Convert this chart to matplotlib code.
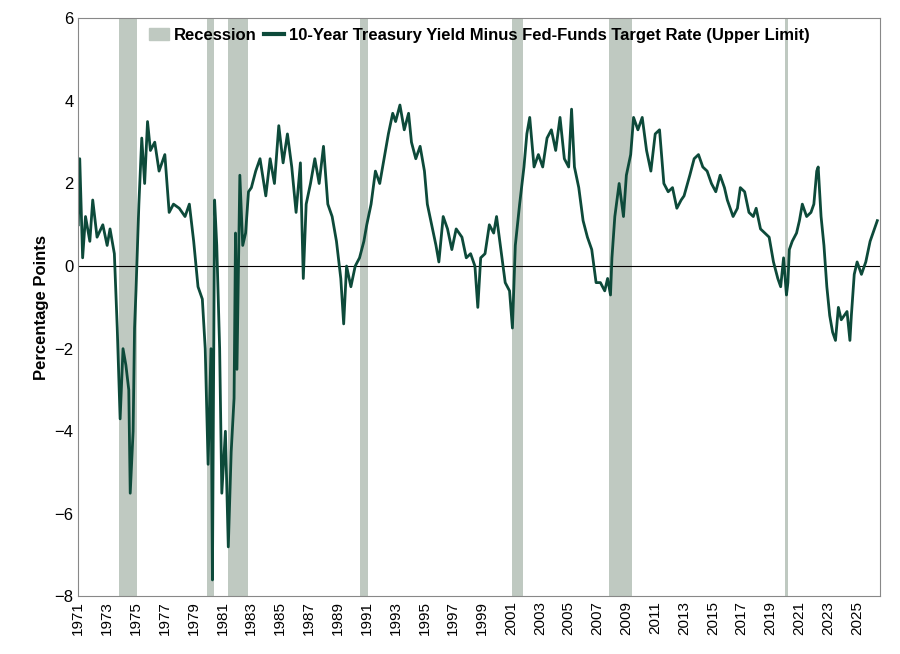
import matplotlib
matplotlib.use("Agg")
import matplotlib.pyplot as plt
from matplotlib.patches import Patch
from matplotlib.lines import Line2D

plt.rcParams['font.family'] = ['Liberation Sans', 'DejaVu Sans']

years = [1971.0,1971.1,1971.3,1971.5,1971.8,1972.0,1972.3,1972.7,1973.0,1973.2,1973.5,1973.7,1973.9,1974.1,1974.3,1974.5,1974.6,1974.8,1974.9,1975.0,1975.2,1975.4,1975.6,1975.8,1976.0,1976.3,1976.6,1977.0,1977.3,1977.6,1978.0,1978.4,1978.7,1979.0,1979.3,1979.6,1979.8,1980.0,1980.2,1980.3,1980.45,1980.6,1980.8,1980.95,1981.2,1981.4,1981.6,1981.8,1981.9,1982.0,1982.2,1982.4,1982.6,1982.8,1983.0,1983.3,1983.6,1984.0,1984.3,1984.6,1984.9,1985.2,1985.5,1985.8,1986.1,1986.4,1986.6,1986.8,1987.1,1987.4,1987.7,1988.0,1988.3,1988.6,1988.9,1989.2,1989.4,1989.6,1989.9,1990.2,1990.5,1990.8,1991.0,1991.3,1991.6,1991.9,1992.2,1992.5,1992.8,1993.0,1993.3,1993.6,1993.9,1994.1,1994.4,1994.7,1995.0,1995.2,1995.5,1995.8,1996.0,1996.3,1996.6,1996.9,1997.2,1997.6,1997.9,1998.2,1998.5,1998.7,1998.9,1999.2,1999.5,1999.8,2000.0,2000.3,2000.6,2000.9,2001.1,2001.3,2001.6,2001.9,2002.1,2002.3,2002.6,2002.9,2003.2,2003.5,2003.8,2004.1,2004.4,2004.7,2005.0,2005.2,2005.4,2005.7,2006.0,2006.3,2006.6,2006.9,2007.2,2007.5,2007.7,2007.9,2008.0,2008.2,2008.5,2008.8,2009.0,2009.3,2009.5,2009.8,2010.1,2010.4,2010.7,2011.0,2011.3,2011.6,2011.9,2012.2,2012.5,2012.8,2013.0,2013.4,2013.7,2014.0,2014.3,2014.6,2014.9,2015.2,2015.5,2015.8,2016.0,2016.4,2016.7,2016.9,2017.2,2017.5,2017.8,2018.0,2018.3,2018.6,2018.9,2019.2,2019.5,2019.7,2019.9,2020.1,2020.2,2020.3,2020.5,2020.8,2021.0,2021.2,2021.5,2021.8,2022.0,2022.2,2022.3,2022.5,2022.7,2022.9,2023.1,2023.3,2023.5,2023.7,2023.9,2024.1,2024.3,2024.5,2024.6,2024.8,2025.0,2025.3,2025.6,2025.9,2026.2,2026.4]
spread = [1.0,2.6,0.2,1.2,0.6,1.6,0.7,1.0,0.5,0.9,0.3,-1.5,-3.7,-2.0,-2.4,-3.0,-5.5,-4.0,-1.5,-0.6,1.5,3.1,2.0,3.5,2.8,3.0,2.3,2.7,1.3,1.5,1.4,1.2,1.5,0.6,-0.5,-0.8,-2.0,-4.8,-2.0,-7.6,1.6,0.5,-2.0,-5.5,-4.0,-6.8,-4.5,-3.2,0.8,-2.5,2.2,0.5,0.8,1.8,1.9,2.3,2.6,1.7,2.6,2.0,3.4,2.5,3.2,2.4,1.3,2.5,-0.3,1.5,2.0,2.6,2.0,2.9,1.5,1.2,0.6,-0.3,-1.4,0.0,-0.5,0.0,0.2,0.6,1.0,1.5,2.3,2.0,2.6,3.2,3.7,3.5,3.9,3.3,3.7,3.0,2.6,2.9,2.3,1.5,1.0,0.5,0.1,1.2,0.9,0.4,0.9,0.7,0.2,0.3,0.0,-1.0,0.2,0.3,1.0,0.8,1.2,0.4,-0.4,-0.6,-1.5,0.5,1.5,2.4,3.2,3.6,2.4,2.7,2.4,3.1,3.3,2.8,3.6,2.6,2.4,3.8,2.4,1.9,1.1,0.7,0.4,-0.4,-0.4,-0.6,-0.3,-0.7,0.2,1.2,2.0,1.2,2.2,2.7,3.6,3.3,3.6,2.8,2.3,3.2,3.3,2.0,1.8,1.9,1.4,1.6,1.7,2.2,2.6,2.7,2.4,2.3,2.0,1.8,2.2,1.9,1.6,1.2,1.4,1.9,1.8,1.3,1.2,1.4,0.9,0.8,0.7,0.1,-0.3,-0.5,0.2,-0.7,-0.4,0.4,0.6,0.8,1.1,1.5,1.2,1.3,1.5,2.3,2.4,1.2,0.5,-0.5,-1.2,-1.6,-1.8,-1.0,-1.3,-1.2,-1.1,-1.8,-1.2,-0.2,0.1,-0.2,0.1,0.6,0.9,1.1]
rec_start = [1973.8,1979.9,1981.4,1990.5,2001.1,2007.8,2020.0]
rec_end = [1975.1,1980.4,1982.8,1991.1,2001.8,2009.4,2020.2]
xticks = list(range(1971, 2027, 2))

line_c = "#0d4a3a"
rec_c = "#bfc9c1"

fig = plt.figure(figsize=(9, 6.54), dpi=100)
ax = fig.add_axes([0.087, 0.088, 0.891, 0.884])
for s, e in zip(rec_start, rec_end):
    ax.axvspan(s, e, color=rec_c, lw=0)
ax.axhline(0, color="black", lw=0.8)
ax.plot(years, spread, color=line_c, lw=2)
ax.set_xlim(1971, 2026.6)
ax.set_ylim(-8, 6)
ax.set_yticks(range(-8, 7, 2))
ax.set_xticks(xticks)
ax.set_xticklabels([str(x) for x in xticks], rotation=90, fontsize=11)
ax.tick_params(axis='y', labelsize=12, length=0)
ax.tick_params(axis='x', length=0)
ax.set_ylabel("Percentage Points", fontsize=12, fontweight="bold")
for s in ax.spines.values():
    s.set_color("#888888")
handles = [Patch(color=rec_c, label="Recession"),
           Line2D([], [], color=line_c, lw=3, label="10-Year Treasury Yield Minus Fed-Funds Target Rate (Upper Limit)")]
ax.legend(handles=handles, loc="upper center", bbox_to_anchor=(0.5, 1.01), ncol=2, frameon=False,
          prop={"weight": "bold", "size": 12}, handlelength=1.2, handletextpad=0.3, columnspacing=0.4)
fig.savefig("out.png")
